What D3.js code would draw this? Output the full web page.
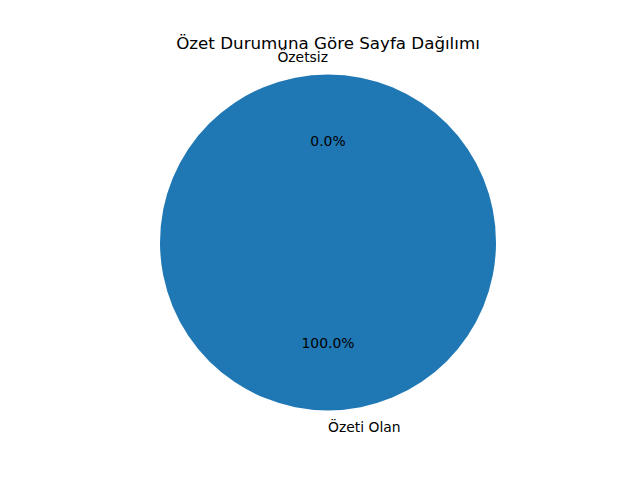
<!DOCTYPE html>
<html>
<head>
<meta charset="utf-8">
<script src="https://cdn.jsdelivr.net/npm/d3@7"></script>
<style>
  body { margin: 0; background: #fff; }
  text { font-family: "DejaVu Sans", sans-serif; }
</style>
</head>
<body>
<svg id="chart" width="640" height="480"></svg>
<script>
// pie data
const labels = ['Özetsiz', 'Özeti Olan'];
const counts = [0, 1];
const colors = ['#ff7f0e', '#1f77b4'];

const svg = d3.select('#chart'),
  width = +svg.attr('width'),
  height = +svg.attr('height');

// axes box like matplotlib default subplot
const axLeft = 80, axRight = 576, axTop = 57.6, axBottom = 427.2;
const cx = (axLeft + axRight) / 2,
  cy = (axTop + axBottom) / 2;
const radius = (axBottom - axTop) / 2 / 1.1;

svg.append('text')
  .attr('x', cx)
  .attr('y', axTop - 8.3)
  .attr('text-anchor', 'middle')
  .style('font-size', '16.7px')
  .text('Özet Durumuna Göre Sayfa Dağılımı');

const pie = d3.pie().sort(null).startAngle(0).endAngle(2 * Math.PI);
const arcs = pie(counts);
const arc = d3.arc().innerRadius(0).outerRadius(radius);
const total = d3.sum(counts);

const g = svg.append('g').attr('transform', `translate(${cx},${cy})`);

g.selectAll('path')
  .data(arcs)
  .join('path')
  .attr('d', arc)
  .attr('fill', (d, i) => colors[i]);

// outer labels at 1.1 r, percentages at 0.6 r
arcs.forEach(function (d, i) {
  const mid = (d.startAngle + d.endAngle) / 2;
  const sx = Math.sin(mid), sy = -Math.cos(mid);
  g.append('text')
    .attr('x', sx * radius * 1.1)
    .attr('y', sy * radius * 1.1)
    .attr('dy', '0.35em')
    .attr('text-anchor', sx > 0 ? 'start' : 'end')
    .style('font-size', '13.9px')
    .text(labels[i]);
  g.append('text')
    .attr('x', sx * radius * 0.6)
    .attr('y', sy * radius * 0.6)
    .attr('dy', '0.35em')
    .attr('text-anchor', 'middle')
    .style('font-size', '13.9px')
    .text((counts[i] / total * 100).toFixed(1) + '%');
});
</script>
</body>
</html>
